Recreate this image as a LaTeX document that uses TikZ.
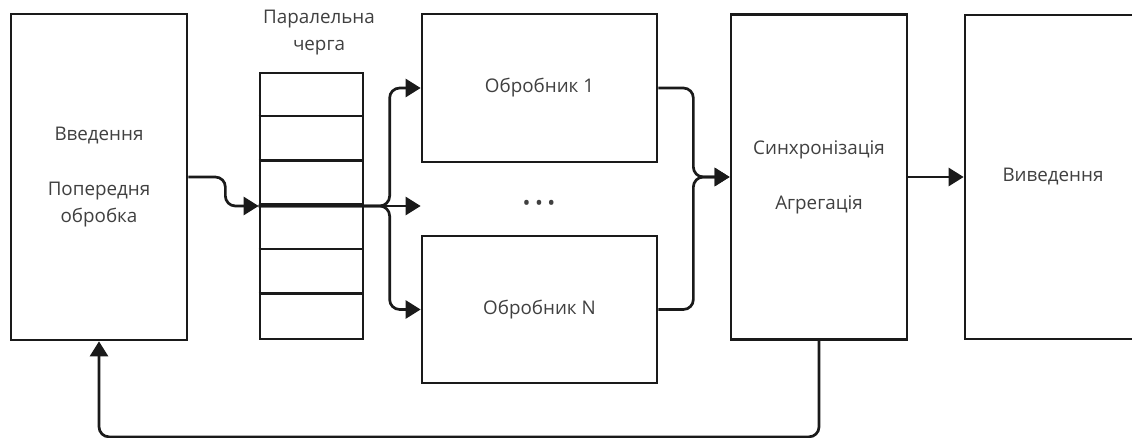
\documentclass[tikz,border=0pt]{standalone}
\usepackage{fontspec}
\setmainfont{Open Sans}
\usetikzlibrary{arrows.meta,calc}
\definecolor{ln}{HTML}{1A1A1A}
\definecolor{tx}{HTML}{404040}
\begin{document}
\begin{tikzpicture}[x=1pt,y=-1pt,
  box/.style={draw=ln, line width=2.7pt, minimum width=176pt, inner sep=0pt,
    text=tx, align=center, font=\fontsize{18.8}{26.5}\selectfont},
  lbl/.style={text=tx, align=center, inner sep=0pt, font=\fontsize{18.8}{27}\selectfont},
  conn/.style={draw=ln, line width=2.7pt, rounded corners=10pt},
  arr/.style={conn, -{Triangle[length=15pt,width=18pt]}}
]
\useasboundingbox (0,0) rectangle (1132,438);
\fill[white] (0,0) rectangle (1132,438);

% boxes
\node[box, minimum height=326pt] (inp) at (99,177) {Введення\\[28.5pt]Попередня\\обробка};
\node[box, minimum width=103pt, minimum height=266pt] (q) at (311.5,206) {};
\foreach \i in {1,...,5}
  \draw[ln, line width=2.7pt] ($(q.north west)+(0,\i*44.33)$) -- ++(103,0);
\node[lbl] (ql) at (319,33) {Паралельна\\черга};
\node[box, minimum width=235pt, minimum height=148pt] (p1) at (539.5,88) {Обробник 1};
\node[box, minimum width=235pt, minimum height=147pt] (pn) at (539.5,309.5) {Обробник N};
\node[lbl, font=\fontsize{21}{21}\selectfont] (dots) at (539,205) {•\hspace{4.5pt}•\hspace{4.5pt}•};
\node[box, minimum height=325pt] (sync) at (819,177) {Синхронізація\\[28.5pt]Агрегація};
\node[box, minimum height=324pt] (out) at (1053,177) {Виведення};

% connectors
\draw[arr] (inp.east) -- ++(37,0) |- (q.west);
\draw[arr] (q.west) -- ++(131,0) |- (p1.west);
\draw[arr] (q.west) -- ++(131,0) |- (pn.west);
\draw[arr] (q.west) -- (p1.west |- q.west);
\draw[arr] (p1.east) -- ++(35,0) |- (sync.west);
\draw[arr] (pn.east) -- ++(35,0) |- (sync.west);
\draw[arr] (sync.east) -- (out.west);
\draw[arr] (sync.south) -- ++(0,96) -| (inp.south);
\end{tikzpicture}
\end{document}
